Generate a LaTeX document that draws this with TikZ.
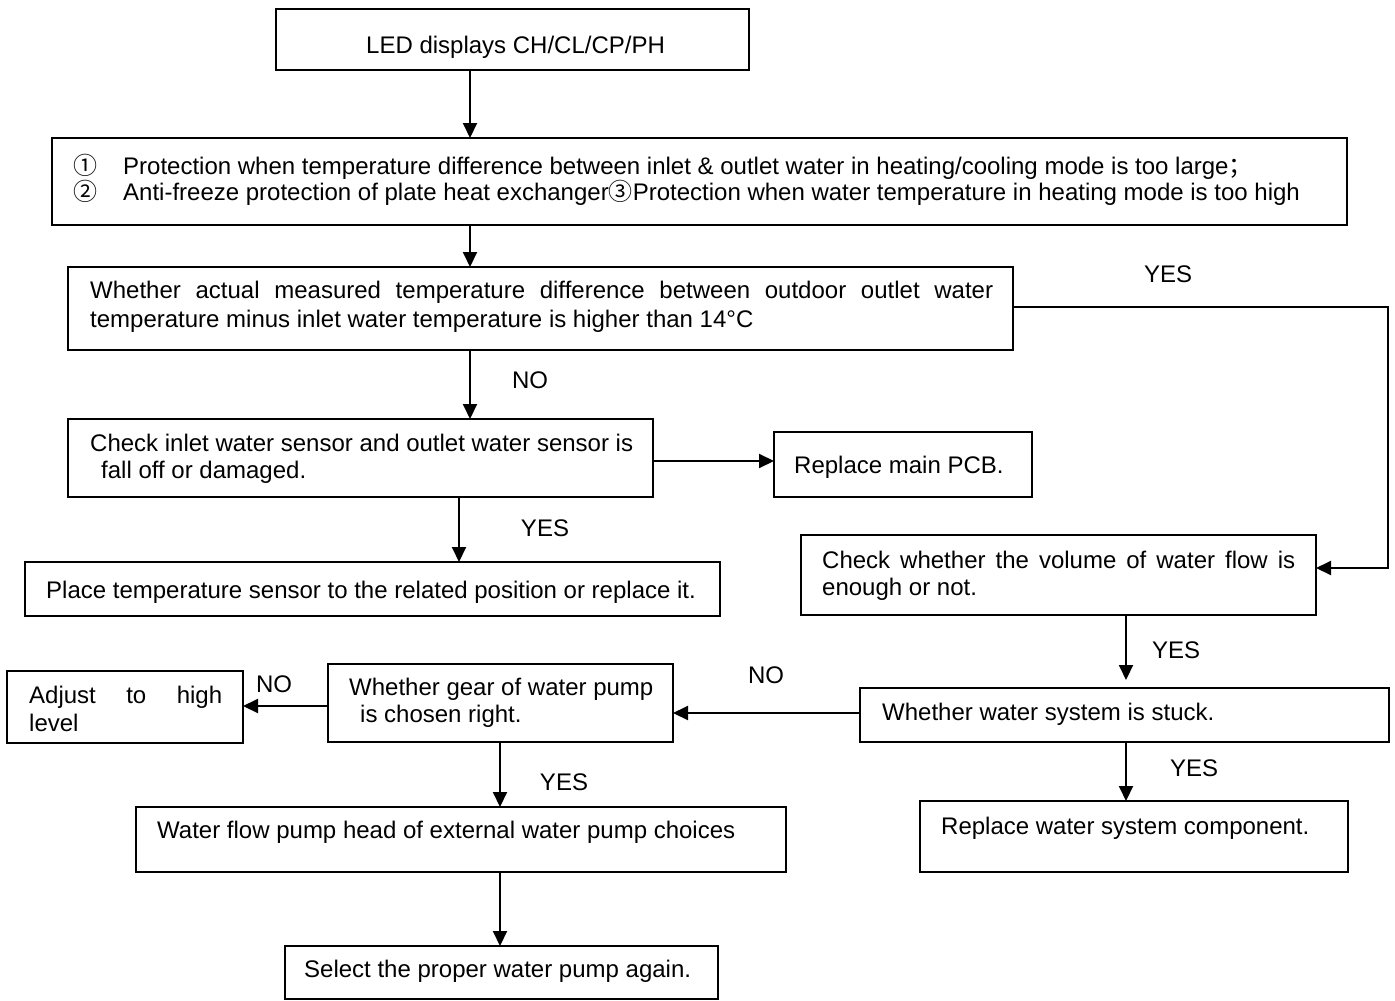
\documentclass[tikz,border=0pt]{standalone}
\usepackage{fontspec}
\setmainfont{Liberation Sans}
\newfontfamily\cjk{Noto Sans CJK SC}
\usetikzlibrary{arrows.meta}
\newcommand\mkbox[5]{\node[bx, minimum width={(#4-#2)*1pt}, minimum height={(#5-#3)*1pt}] (#1) at ({(#2+#4)/2},{(#3+#5)/2}) {};}
\begin{document}
\begin{tikzpicture}[x=1pt,y=-1pt,
  bx/.style={draw, line width=2pt, inner sep=0pt, outer sep=0pt},
  tx/.style={inner sep=0pt, anchor=base west, font=\fontsize{24}{29}\selectfont},
  lb/.style={inner sep=0pt, font=\fontsize{24}{29}\selectfont},
  arr/.style={line width=2pt, -{Triangle[length=15pt,width=14pt]}}]
\useasboundingbox (0,0) rectangle (1395,1001);
% boxes
\mkbox{b1}{276}{9}{749}{70}
\mkbox{b2}{52}{138}{1347}{225}
\mkbox{b3}{68}{267}{1013}{350}
\mkbox{b4}{68}{419}{653}{497}
\mkbox{b5}{774}{432}{1032}{497}
\mkbox{b6}{25}{562}{720}{616}
\mkbox{b7}{801}{535}{1316}{615}
\mkbox{b8}{860}{688}{1389}{742}
\mkbox{b9}{328}{664}{673}{742}
\mkbox{b10}{7}{671}{243}{743}
\mkbox{b11}{920}{801}{1348}{872}
\mkbox{b12}{136}{807}{786}{872}
\mkbox{b13}{285}{946}{718}{999}
% texts
\node[tx] (t1) at (366,53) {LED displays CH/CL/CP/PH};
\node[tx] (t2n1) at (73,174) {\cjk ①};
\node[tx] (t2a) at (123,174) {Protection when temperature difference between inlet \& outlet water in heating/cooling mode is too large{\cjk ；}};
\node[tx] (t2n2) at (73,200) {\cjk ②};
\node[tx] (t2b) at (123,200) {Anti-freeze protection of plate heat exchanger{\cjk ③}Protection when water temperature in heating mode is too high};
\node[tx] (t3a) at (90,298) {\makebox[903pt][s]{Whether actual measured temperature difference between outdoor outlet water}};
\node[tx] (t3b) at (90,327) {temperature minus inlet water temperature is higher than 14°C};
\node[tx] (t4a) at (90,451) {Check inlet water sensor and outlet water sensor is};
\node[tx] (t4b) at (101,478) {fall off or damaged.};
\node[tx] (t5) at (794,473) {Replace main PCB.};
\node[tx] (t6) at (46,598) {Place temperature sensor to the related position or replace it.};
\node[tx] (t7a) at (822,568) {\makebox[473pt][s]{Check whether the volume of water flow is}};
\node[tx] (t7b) at (822,595) {enough or not.};
\node[tx] (t8) at (882,720) {Whether water system is stuck.};
\node[tx] (t9a) at (349,695) {Whether gear of water pump};
\node[tx] (t9b) at (360,722) {is chosen right.};
\node[tx] (t10a) at (29,703) {\makebox[193pt][s]{Adjust to high}};
\node[tx] (t10b) at (29,731) {level};
\node[tx] (t11) at (941,834) {Replace water system component.};
\node[tx] (t12) at (157,838) {Water flow pump head of external water pump choices};
\node[tx] (t13) at (304,977) {Select the proper water pump again.};
% labels
\node[lb] (l1) at (1168,274) {YES};
\node[lb] (l2) at (530,380) {NO};
\node[lb] (l3) at (545,528) {YES};
\node[lb] (l4) at (1176,650) {YES};
\node[lb] (l5) at (766,675) {NO};
\node[lb] (l6) at (274,684) {NO};
\node[lb] (l7) at (1194,768) {YES};
\node[lb] (l8) at (564,782) {YES};
% connectors
\coordinate (xa) at (470,0);
\coordinate (xb) at (459,0);
\coordinate (xc) at (1126,0);
\coordinate (xd) at (500,0);
\coordinate (xr) at (1388,0);
\coordinate (ya) at (0,307);
\coordinate (yb) at (0,568);
\coordinate (yc) at (0,461);
\coordinate (yd) at (0,713);
\coordinate (ye) at (0,706);
\draw[arr] (xa |- b1.south) -- (xa |- b2.north);
\draw[arr] (xa |- b2.south) -- (xa |- b3.north);
\draw[arr] (xa |- b3.south) -- (xa |- b4.north);
\draw[arr] (b3.east |- ya) -- (xr |- ya) -- (xr |- yb) -- (b7.east |- yb);
\draw[arr] (b4.east |- yc) -- (b5.west |- yc);
\draw[arr] (xb |- b4.south) -- (xb |- b6.north);
\draw[arr, shorten >=8pt] (xc |- b7.south) -- (xc |- b8.north);
\draw[arr] (xc |- b8.south) -- (xc |- b11.north);
\draw[arr] (b8.west |- yd) -- (b9.east |- yd);
\draw[arr] (b9.west |- ye) -- (b10.east |- ye);
\draw[arr] (xd |- b9.south) -- (xd |- b12.north);
\draw[arr] (xd |- b12.south) -- (xd |- b13.north);
\end{tikzpicture}
\end{document}
